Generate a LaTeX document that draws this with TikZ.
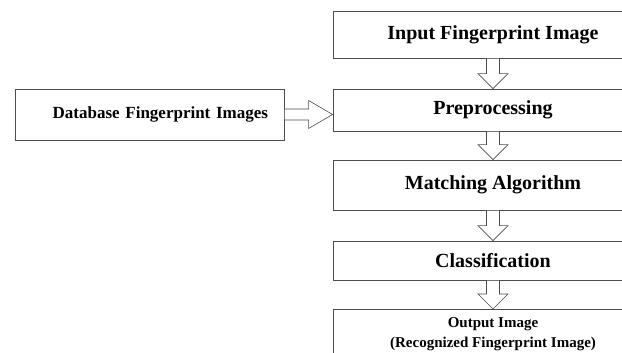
\documentclass[tikz,border=0pt]{standalone}
\usepackage{fontspec}
\setmainfont{Liberation Serif}
\usetikzlibrary{calc}
\tikzset{
  box/.style={draw=black!70,line width=.8pt,rectangle,inner sep=0pt,minimum width=320pt,font=\bfseries\fontsize{20}{24}\selectfont},
  fatarrow/.style={draw=black!70,line width=.6pt,fill=white},
  downarrow/.style={fatarrow,to path={--++(-6.5,0)--($(\tikztotarget)+(-6.5,-15)$)--++(-8.5,0)--(\tikztotarget)
    --++(15,-15)--++(-8.5,0)--($(\tikztostart)+(6.5,0)$)--cycle}},
  rightarrow/.style={fatarrow,to path={--++(0,-5.5)--($(\tikztotarget)+(-24,-5.5)$)--++(0,-8.5)--(\tikztotarget)
    --++(-24,14)--++(0,-8.5)--($(\tikztostart)+(0,5.5)$)--cycle}},
}
\begin{document}
\begin{tikzpicture}[x=1pt,y=-1pt]
\useasboundingbox(0,0)rectangle(622,353);
\clip(0,0)rectangle(622,353);
%main column
\node[box,minimum height=47pt](input)at(493,34.5){Input Fingerprint Image};
\node[box,minimum height=42pt](prep)at(493,110){Preprocessing};
\node[box,minimum height=50pt](match)at(493,185){Matching Algorithm};
\node[box,minimum height=39pt](class)at(493,260.5){Classification};
\node[box,anchor=north,inner ysep=8pt,align=center,font=\bfseries\fontsize{15}{20}\selectfont](out)at(493,309){Output Image\\(Recognized Fingerprint Image)};
%database
\node[box,minimum width=0pt,text width=237pt,inner xsep=16pt,minimum height=51pt,align=right,font=\bfseries\fontsize{17}{20}\selectfont](db)at(149.5,114.5){Database Fingerprint Images};
\coordinate(dbtip)at(db.east -| prep.west);
%arrows
\draw[downarrow](input.south)to(prep.north);
\draw[downarrow](prep.south)to(match.north);
\draw[downarrow](match.south)to(class.north);
\draw[downarrow](class.south)to(out.north);
\draw[rightarrow](db.east)to(dbtip);
\end{tikzpicture}
\end{document}
